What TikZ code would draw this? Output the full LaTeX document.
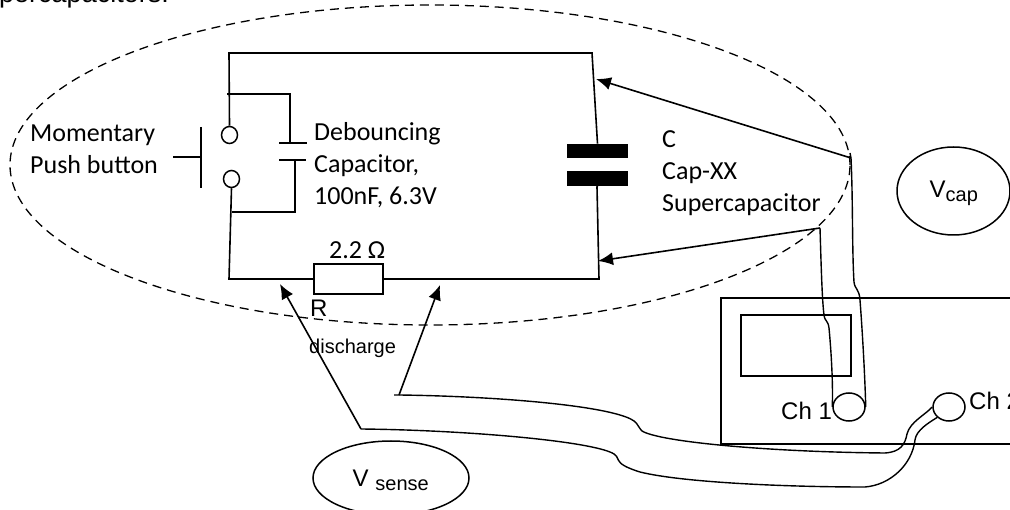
\documentclass[tikz,border=0pt]{standalone}
\usepackage{fontspec}
\setmainfont{Carlito}
\newfontfamily\arialf{Liberation Sans}
\usetikzlibrary{arrows.meta,shapes.geometric}
\tikzset{
  wire/.style={draw=black,line width=1.6pt,line join=miter},
  thinwire/.style={draw=black,line width=1.4pt},
  ptr/.style={wire,-{Latex[length=15pt,width=13pt]}},
  lab/.style={inner sep=0pt,align=left,anchor=west,font=\fontsize{26}{32}\selectfont},
  alab/.style={inner sep=0pt,anchor=west,font=\arialf\fontsize{24}{28}\selectfont},
  bubble/.style={draw=black,line width=1.5pt,shape=ellipse,inner sep=0pt},
  term/.style={draw=black,line width=1.5pt,shape=ellipse,minimum width=32pt,minimum height=28pt,inner sep=0pt},
  pad/.style={draw=black,line width=1.5pt,shape=ellipse,minimum width=16pt,minimum height=17pt,inner sep=0pt},
  plate/.style={fill=black,draw=none,minimum width=61pt,minimum height=14.5pt,inner sep=0pt}
}
\begin{document}
\begin{tikzpicture}[x=1pt,y=-1pt]
\useasboundingbox (0,0) rectangle (1010,510);
\fill[white] (0,0) rectangle (1010,510);
% clipped heading
\node[inner sep=0pt,anchor=base east,font=\arialf\fontsize{27}{32}\selectfont] (head) at (169,3) {supercapacitors.};
% dashed boundary
\node[draw=black,line width=1.3pt,dash pattern=on 9pt off 6pt,shape=ellipse,minimum width=840pt,minimum height=320pt,inner sep=0pt] (bound) at (430,165) {};
% circuit coordinates
\coordinate (tl) at (229,53); \coordinate (tr) at (592,53);
\coordinate (bl) at (229,279); \coordinate (br) at (599,279);
\node[pad] (sw1) at (229.5,135) {};
\node[pad] (sw2) at (231.5,179) {};
\node[plate] (capT) at (597.5,151) {};
\node[plate] (capB) at (597.5,178.5) {};
\node[draw=black,line width=1.5pt,minimum width=69pt,minimum height=30pt,inner sep=0pt] (rdis) at (348.5,279) {};
\draw[wire] (sw1.north) -- (tl) -- (tr) -- (capT.north);
\draw[wire] (capB.south) -- (597,187) -- (br) -- (rdis.east);
\draw[wire] (rdis.west) -- (bl) -- (sw2.south);
% button
\coordinate (bt) at (201,127); \coordinate (bb) at (201,188);
\coordinate (bh) at (173,157); \coordinate (bm) at (201,157);
\draw[wire] (bt) -- (bb); \draw[wire] (bh) -- (bm);
% debouncing capacitor
\coordinate (d1) at (227,94); \coordinate (d2) at (290,94); \coordinate (d3) at (290,143);
\coordinate (p1a) at (279,143); \coordinate (p1b) at (307,143);
\coordinate (p2a) at (279,160); \coordinate (p2b) at (306,160);
\coordinate (d4) at (295,160); \coordinate (d5) at (295,212); \coordinate (d6) at (232,212);
\draw[wire] (d1) -- (d2) -- (d3); \draw[wire] (p1a) -- (p1b);
\draw[wire] (p2a) -- (p2b); \draw[wire] (d4) -- (d5) -- (d6);
% labels
\node[lab] (mom) at (30,149) {Momentary\\Push button};
\node[lab] (deb) at (314,165) {Debouncing\\Capacitor,\\100nF, 6.3V};
\node[lab] (cap) at (662,173) {C\\Cap-XX\\Supercapacitor};
\node[lab] (ohm) at (329,250) {2.2 Ω};
\node[alab] (rlab) at (310,308) {R};
\node[alab,font=\arialf\fontsize{20}{24}\selectfont] (dlab) at (309,348) {discharge};
% scope
\coordinate (s1) at (1012,298); \coordinate (s2) at (721,298); \coordinate (s3) at (721,444); \coordinate (s4) at (1012,444);
\draw[wire] (s1) -- (s2) -- (s3) -- (s4);
\node[draw=black,line width=1.5pt,minimum width=110pt,minimum height=61pt,inner sep=0pt] (screen) at (796,345.5) {};
\node[term] (ch1) at (849,407) {};
\node[term] (ch2) at (949,407) {};
\node[alab] (c1lab) at (781,411) {Ch 1};
\node[alab] (c2lab) at (969,401) {Ch 2};
% bubbles
\node[bubble,minimum width=113pt,minimum height=88pt] (vcap) at (953.5,191) {};
\node[inner sep=0pt,font=\arialf\fontsize{24}{28}\selectfont] (vcapt) at (954,193) {V\textsubscript{\fontsize{20}{24}\selectfont cap}};
\node[bubble,minimum width=156pt,minimum height=74pt] (vsense) at (391,478) {};
\node[inner sep=0pt,font=\arialf\fontsize{24}{28}\selectfont] (vsenset) at (391,480) {V \textsubscript{\fontsize{20}{24}\selectfont sense}};
% probes V_cap
\coordinate (pa) at (851,158); \coordinate (pat) at (850,153); \coordinate (pah) at (596,79);
\coordinate (pb) at (820,228); \coordinate (pbh) at (598,261);
\draw[ptr] (pa) -- (pah);
\draw[ptr] (pb) -- (pbh);
\draw[thinwire] (pat) -- (pa) .. controls (853,200) and (852,250) .. (854,282) .. controls (855,290) and (859,288) .. (860,300) .. controls (863,340) and (865,380) .. (ch1.east);
\draw[thinwire] (pb) .. controls (821,260) and (822,300) .. (824,315) .. controls (825,322) and (828,320) .. (829,328) .. controls (832,360) and (833,390) .. (ch1.west);
% probes V_sense
\coordinate (qa) at (399,395); \coordinate (qat) at (394,395); \coordinate (qah) at (440,285);
\coordinate (qb) at (361,429); \coordinate (qbh) at (280,284);
\draw[ptr] (qa) -- (qah);
\draw[ptr] (qb) -- (qbh);
\draw[thinwire] (qat) -- (qa) .. controls (480,396) and (580,403) .. (620,415) .. controls (640,421) and (636,425) .. (642,431) .. controls (660,442) and (770,452) .. (885,453) .. controls (900,452) and (905,445) .. (907,434) .. controls (910,422) and (925,415) .. (ch2.west);
\draw[thinwire] (qb) .. controls (460,430) and (580,440) .. (610,452) .. controls (625,458) and (608,462) .. (640,472) .. controls (680,482) and (780,487) .. (865,487) .. controls (890,485) and (912,465) .. (915,440) .. controls (916,430) and (930,422) .. (ch2.south west);
\end{tikzpicture}
\end{document}
